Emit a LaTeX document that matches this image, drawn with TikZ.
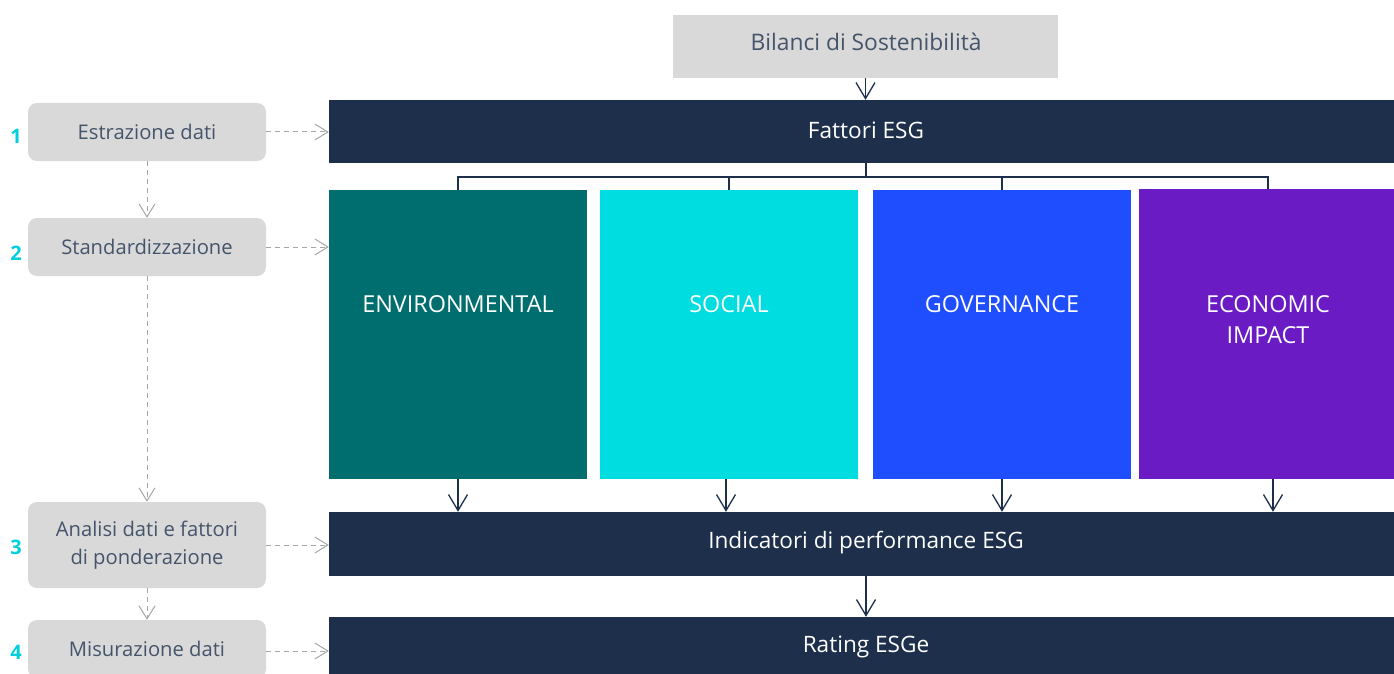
\documentclass[tikz,border=0pt]{standalone}
\usepackage{fontspec}
\setmainfont{Open Sans}
\usetikzlibrary{arrows.meta}
\definecolor{navy}{HTML}{1D2F4A}
\definecolor{lgray}{HTML}{D9D9D9}
\definecolor{slate}{HTML}{44546A}
\definecolor{dgray}{HTML}{A6A6A6}
\definecolor{envc}{HTML}{006E6E}
\definecolor{socc}{HTML}{00DDE0}
\definecolor{govc}{HTML}{1F4EFF}
\definecolor{ecoc}{HTML}{6A1BC4}
\definecolor{numc}{HTML}{00D0DC}
\tikzset{
  bar/.style={fill=navy, text=white, inner sep=0pt},
  bartext/.style={text=white, inner sep=0pt, font=\fontsize{22.6}{26}\selectfont},
  topbox/.style={fill=lgray, text=slate, inner sep=0pt, font=\fontsize{22.8}{26}\selectfont},
  pillar/.style={inner sep=0pt, text=white, align=center, font=\fontsize{23.4}{31}\selectfont},
  stepbox/.style={fill=lgray, text=slate, rounded corners=9pt, inner sep=0pt, align=center, font=\fontsize{20.2}{28}\selectfont},
  num/.style={text=numc, font=\fontsize{20}{24}\selectfont\bfseries, inner sep=0pt},
  conn/.style={draw=navy, line width=1.3pt},
  darr/.style={draw=navy, line width=1.3pt, -{Straight Barb[length=16pt,width=19pt,line width=1.3pt]}},
  garr/.style={draw=dgray, line width=1pt, dash pattern=on 5pt off 4pt, -{Straight Barb[length=13pt,width=16pt,line width=1pt,sep=0pt]}},
}
\begin{document}
\begin{tikzpicture}[x=1pt,y=-1pt]
\useasboundingbox (0,0) rectangle (1394,674);
\begin{scope}
\clip (0,0) rectangle (1394,674);
% top
\node[topbox, minimum width=385pt, minimum height=63pt] (bil) at (865.5,46.5) {};
\node[topbox] (bilt) at (866,42) {Bilanci di Sostenibilità};
\node[bar, minimum width=1068pt, minimum height=63pt] (fat) at (863,131.5) {};
\node[bartext] (fatt) at (866,130) {Fattori ESG};
% pillars
\node[pillar, fill=envc, minimum width=258pt, minimum height=289pt] (env) at (458,334.5) {};
\node[pillar, fill=socc, minimum width=258pt, minimum height=289pt] (soc) at (729,334.5) {};
\node[pillar, fill=govc, minimum width=258pt, minimum height=289pt] (gov) at (1002,334.5) {};
\node[pillar, fill=ecoc, minimum width=258pt, minimum height=290pt] (eco) at (1268,334) {};
\node[pillar] (envt) at (458,304) {ENVIRONMENTAL};
\node[pillar] (soct) at (729,304) {SOCIAL};
\node[pillar] (govt) at (1002,304) {GOVERNANCE};
\node[pillar] (ecot) at (1268,319.5) {ECONOMIC\\IMPACT};
% bars
\node[bar, minimum width=1068pt, minimum height=64pt] (ind) at (863,544) {};
\node[bartext] (indt) at (866,543) {Indicatori di performance ESG};
\node[bar, minimum width=1068pt, minimum height=64pt] (rat) at (863,649) {};
\node[bartext] (ratt) at (866,647) {Rating ESGe};
% left steps
\node[stepbox, minimum width=238pt, minimum height=58pt] (s1) at (147,132) {Estrazione dati};
\node[stepbox, minimum width=238pt, minimum height=58pt] (s2) at (147,247) {Standardizzazione};
\node[stepbox, minimum width=238pt, minimum height=86pt] (s3) at (147,545) {Analisi dati e fattori\\di ponderazione};
\node[stepbox, minimum width=238pt, minimum height=58pt] (s4) at (147,649) {Misurazione dati};
\node[num] (n1) at (16,136) {1};
\node[num] (n2) at (16,253) {2};
\node[num] (n3) at (16,547) {3};
\node[num] (n4) at (16,652) {4};
% connectors
\coordinate (bus) at (866,177);
\draw[darr] (bil.south) -- (fat.north -| bil.south);
\draw[conn] (fat.south -| bus) -- (bus);
\draw[conn] (env.north) |- (eco.north |- bus) -- (eco.north);
\draw[conn] (soc.north) -- (soc.north |- bus);
\draw[conn] (gov.north) -- (gov.north |- bus);
\draw[darr] (env.south) -- (ind.north -| env.south);
\draw[darr] ([xshift=-3pt]soc.south) coordinate (sa) -- (sa |- ind.north);
\draw[darr] (gov.south) -- (ind.north -| gov.south);
\draw[darr] ([xshift=5pt]eco.south) coordinate (ea) -- (ea |- ind.north);
\draw[darr] (ind.south -| bus) -- (rat.north -| bus);
% dashed
\draw[garr] (s1.east) -- (s1.east -| fat.west);
\draw[garr] (s2.east) -- (s2.east -| env.west);
\draw[garr] (s3.east) -- (s3.east -| ind.west);
\draw[garr] ([yshift=-2pt]s4.east) coordinate (fa) -- (fa -| rat.west);
\draw[garr] (s1.south) -- (s2.north);
\draw[garr] (s2.south) -- (s3.north);
\draw[garr] (s3.south) -- (s4.north);
\end{scope}
\end{tikzpicture}
\end{document}
